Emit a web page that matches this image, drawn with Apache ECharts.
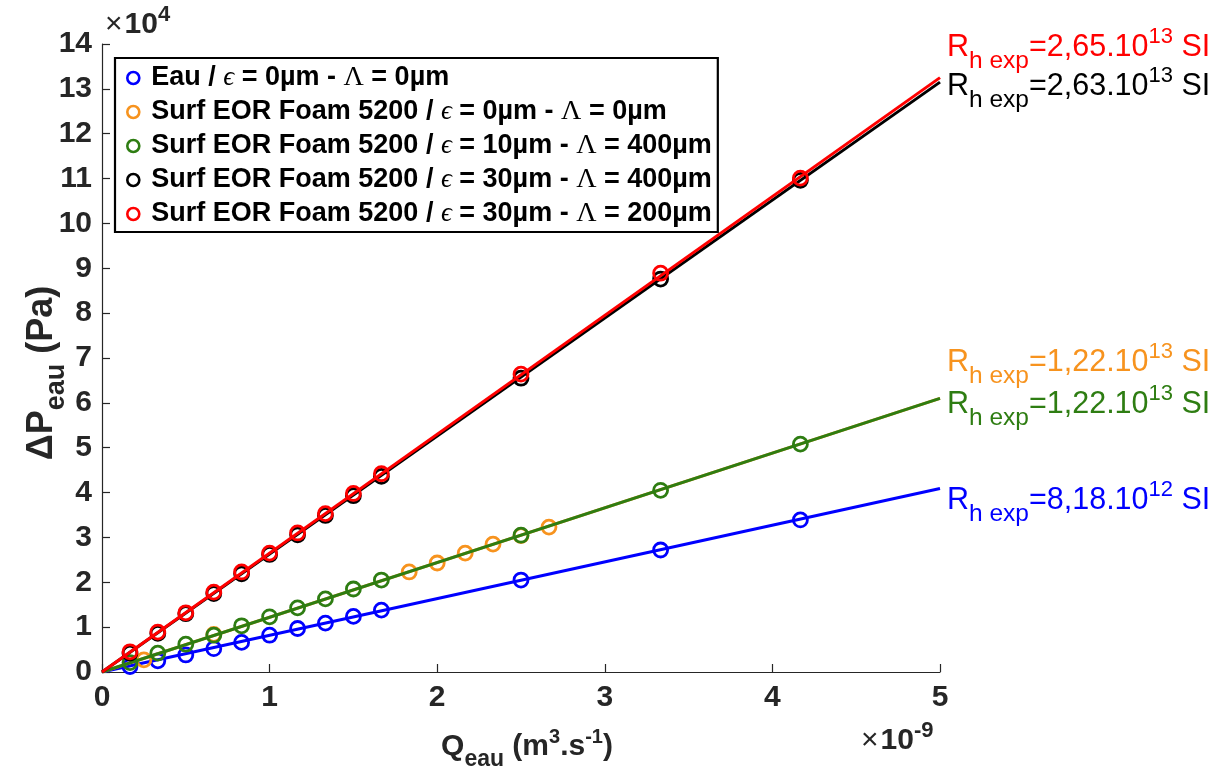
<!DOCTYPE html>
<html>
<head>
<meta charset="utf-8">
<script src="https://cdn.jsdelivr.net/npm/echarts@6/dist/echarts.min.js"></script>
<style>
html,body{margin:0;padding:0;background:#fff;}
#chart{width:1226px;height:778px;}
</style>
</head>
<body>
<div id="chart"></div>
<script>
// ---- data (x in 1e-9 m3/s, y in 1e4 Pa) ----
const seriesNames = [
  "Eau / ϵ = 0µm - Λ = 0µm",
  "Surf EOR Foam 5200 / ϵ = 0µm - Λ = 0µm",
  "Surf EOR Foam 5200 / ϵ = 10µm - Λ = 400µm",
  "Surf EOR Foam 5200 / ϵ = 30µm - Λ = 400µm",
  "Surf EOR Foam 5200 / ϵ = 30µm - Λ = 200µm"
];
const seriesColors = ["#0000ff", "#f7931e", "#2e7d12", "#000000", "#ff0000"];

const xBlue   = [0.167,0.333,0.5,0.667,0.833,1.0,1.167,1.333,1.5,1.667,2.5,3.333,4.167];
const yBlue   = [0.12,0.25,0.38,0.52,0.66,0.82,0.97,1.09,1.24,1.38,2.05,2.72,3.39];
const xOrange = [0.25,0.667,1.833,2.0,2.167,2.333,2.5,2.667];
const yOrange = [0.27,0.84,2.23,2.43,2.65,2.85,3.04,3.23];
const xGreen  = [0.167,0.333,0.5,0.667,0.833,1.0,1.167,1.333,1.5,1.667,2.5,3.333,4.167];
const yGreen  = [0.21,0.42,0.62,0.82,1.03,1.23,1.43,1.63,1.85,2.05,3.05,4.05,5.08];
const xBlack  = [0.167,0.333,0.5,0.667,0.833,1.0,1.167,1.333,1.5,1.667,2.5,3.333,4.167];
const yBlack  = [0.42,0.86,1.30,1.75,2.19,2.62,3.06,3.49,3.93,4.36,6.55,8.76,10.96];
const xRed    = [0.167,0.333,0.5,0.667,0.833,1.0,1.167,1.333,1.5,1.667,2.5,3.333,4.167];
const yRed    = [0.45,0.89,1.32,1.78,2.23,2.65,3.10,3.53,3.98,4.42,6.64,8.89,11.01];

// fitted lines: value at x = 0 and x = 5
const fitX      = [0, 5];
const fitBlue   = [0, 4.09];
const fitOrange = [0, 6.10];
const fitGreen  = [0, 6.10];
const fitBlack  = [0, 13.15];
const fitRed    = [0, 13.25];

// Rh annotations
const rhMantissa = ["8,18.10", "1,22.10", "1,22.10", "2,63.10", "2,65.10"];
const rhExponent = ["12", "13", "13", "13", "13"];

const xTicks = [0,1,2,3,4,5];
const yTicks = [0,1,2,3,4,5,6,7,8,9,10,11,12,13,14];

// ---- build ----
const FONT = "'Liberation Sans', Arial, Helvetica, sans-serif";
const SERIF = "'Liberation Serif', 'Times New Roman', serif";
const pts = [[xBlue,yBlue],[xOrange,yOrange],[xGreen,yGreen],[xBlack,yBlack],[xRed,yRed]];
const fits = [fitBlue, fitOrange, fitGreen, fitBlack, fitRed];
const zip = (a,b) => a.map((v,i)=>[v,b[i]]);

const series = [];
for (let i = 0; i < 5; i++) {
  series.push({
    type: 'line', name: seriesNames[i] + ' fit',
    data: zip(fitX, fits[i]), showSymbol: false, symbol: 'none',
    lineStyle: {color: seriesColors[i], width: 3}, z: 2 + i*2, silent: true
  });
  series.push({
    type: 'scatter', name: seriesNames[i],
    data: zip(pts[i][0], pts[i][1]),
    symbol: 'circle', symbolSize: 14,
    itemStyle: {color: 'rgba(255,255,255,0)', borderColor: seriesColors[i], borderWidth: 2.8, opacity: 1},
    z: 3 + i*2
  });
}

function legendRich(name) {
  return name.replace(/ϵ/g, '{e|ϵ}').replace(/Λ/g, '{l|Λ}');
}

const graphics = [];
const rhY = [500, 362, 404, 86, 47];
for (let i = 0; i < 5; i++) {
  graphics.push({
    type: 'text', left: 947, top: rhY[i] - 21,
    style: {
      text: '{r|R}{s|h exp}{r|=' + rhMantissa[i] + '}{p|' + rhExponent[i] + '}{r| SI}',
      fill: seriesColors[i],
      rich: {
        r: {fontFamily: FONT, fontSize: 30.5, fill: seriesColors[i], padding: [4,0,4,0]},
        s: {fontFamily: FONT, fontSize: 24.5, fill: seriesColors[i], padding: [27,0,0,0]},
        p: {fontFamily: FONT, fontSize: 22, fill: seriesColors[i], padding: [0,0,21,0]}
      }
    }
  });
}
const expRich = {
  x: {fontFamily: FONT, fontSize: 30, fill: '#262626', padding: [6,2,0,0]},
  b: {fontFamily: FONT, fontSize: 30, fontWeight: 'bold', fill: '#262626', padding: [6,0,0,0]},
  p: {fontFamily: FONT, fontSize: 22, fontWeight: 'bold', fill: '#262626', padding: [0,0,14,0]}
};
graphics.push({
  type: 'text', left: 105, top: 4,
  style: {text: '{x|×}{b|10}{p|4}', rich: expRich}
});
graphics.push({
  type: 'text', left: 861, top: 720,
  style: {text: '{x|×}{b|10}{p|-9}', rich: expRich}
});

const axisCommon = {
  axisLine: {show: true, onZero: false, lineStyle: {color: '#262626', width: 1.2}},
  axisTick: {show: true, inside: true, length: 8, lineStyle: {color: '#262626', width: 1.2}},
  splitLine: {show: false},
  axisLabel: {fontFamily: FONT, fontSize: 30, fontWeight: 'bold', color: '#262626'}
};

const option = {
  backgroundColor: '#ffffff',
  animation: false,
  grid: {left: 102, right: 286, top: 44, bottom: 106, containLabel: false, outerBoundsMode: 'none'},
  xAxis: Object.assign({}, axisCommon, {
    type: 'value', min: 0, max: 5, interval: 1,
    axisLabel: Object.assign({}, axisCommon.axisLabel, {margin: 11, formatter: v => xTicks.includes(v) ? String(v) : ''}),
    name: '{b|Q}{s|eau}{b| (m}{p|3}{b|.s}{p|-1}{b|)}',
    nameLocation: 'middle', nameGap: 50,
    nameTextStyle: {
      padding: [0, 0, 0, 12],
      rich: {
        b: {fontFamily: FONT, fontSize: 30, fontWeight: 'bold', color: '#262626', padding: [4,0,4,0]},
        s: {fontFamily: FONT, fontSize: 23, fontWeight: 'bold', color: '#262626', padding: [26,0,0,0]},
        p: {fontFamily: FONT, fontSize: 20, fontWeight: 'bold', color: '#262626', padding: [0,0,18,0]}
      }
    }
  }),
  yAxis: Object.assign({}, axisCommon, {
    type: 'value', min: 0, max: 14, interval: 1,
    axisLabel: Object.assign({}, axisCommon.axisLabel, {margin: 10, formatter: v => yTicks.includes(v) ? String(v) : ''}),
    name: '{b|ΔP}{s|eau}{b| (Pa)}',
    nameLocation: 'middle', nameGap: 32, nameRotate: 90, nameMoveOverlap: false,
    nameTextStyle: {
      padding: [0, 30, 0, 0],
      rich: {
        b: {fontFamily: FONT, fontSize: 36, fontWeight: 'bold', color: '#262626', padding: [4,0,4,0]},
        s: {fontFamily: FONT, fontSize: 27, fontWeight: 'bold', color: '#262626', padding: [28,0,0,0]}
      }
    }
  }),
  legend: {
    data: seriesNames,
    orient: 'vertical', left: 115, top: 58,
    backgroundColor: '#ffffff', borderColor: '#000000', borderWidth: 2.2,
    padding: [6, 6, 4, 11], itemGap: 6, itemWidth: 26, itemHeight: 12,
    itemStyle: {borderWidth: 2.6, color: 'rgba(255,255,255,0)'},
    formatter: legendRich,
    textStyle: {
      fontFamily: FONT, fontSize: 27, fontWeight: 'bold', color: '#000000', lineHeight: 26,
      rich: {
        e: {fontFamily: SERIF, fontStyle: 'italic', fontWeight: 'normal', fontSize: 27, color: '#000', lineHeight: 26},
        l: {fontFamily: SERIF, fontWeight: 'normal', fontSize: 28, color: '#000', lineHeight: 26}
      }
    },
    selectedMode: false
  },
  series: series,
  graphic: graphics
};

const chart = echarts.init(document.getElementById('chart'), null, {renderer: 'canvas'});
chart.setOption(option);
</script>
</body>
</html>
